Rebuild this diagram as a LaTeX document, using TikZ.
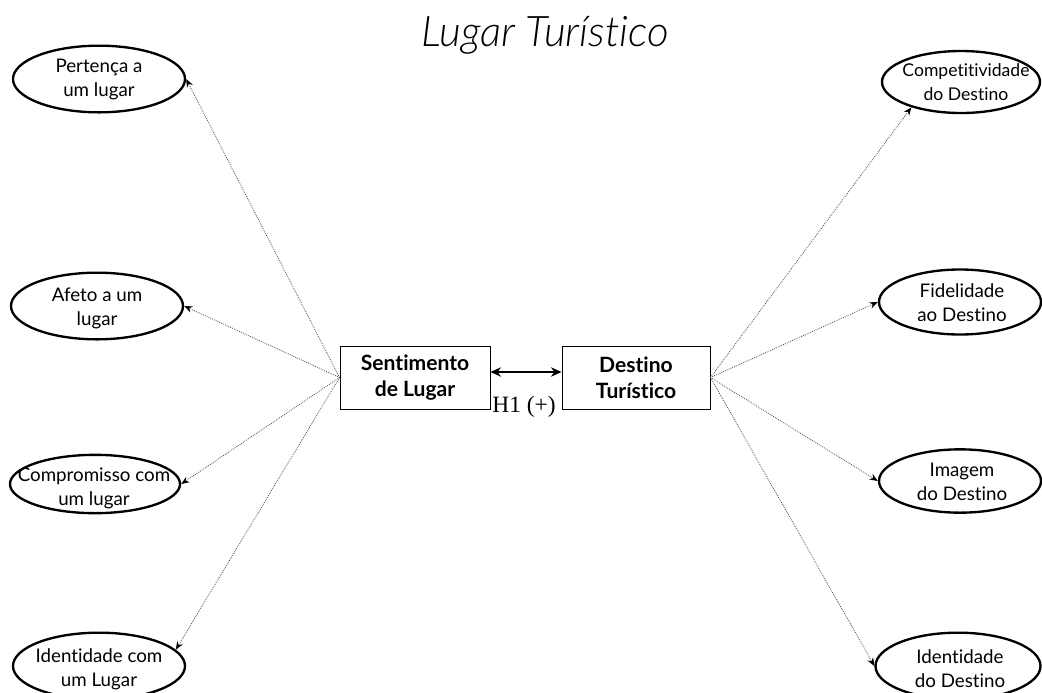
\documentclass[tikz,border=0pt]{standalone}
\usepackage{fontspec}
\setmainfont{Lato}[Ligatures={NoCommon,NoRequired,NoContextual}]
\newfontfamily\titlefont{Lato Light Italic}[Ligatures={NoCommon,NoRequired,NoContextual}]
\newfontfamily\seriffont{Liberation Serif}
\newcommand\tI{t\kern0pt i}
\usetikzlibrary{shapes.geometric,arrows.meta}
\tikzset{
  oval/.style={ellipse, draw, line width=2pt, inner sep=0pt, minimum width=5.16cm, minimum height=2.0cm},
  ovaltext/.style={inner sep=0pt, align=center, font=\fontsize{16}{20.5}\selectfont},
  bigbox/.style={rectangle, draw, line width=0.8pt, inner sep=0pt, minimum width=4.5cm, minimum height=1.89cm, align=center, font=\fontsize{18}{22.5}\selectfont\bfseries},
  dotarrow/.style={draw=black!70, line width=0.7pt, densely dotted, -{Stealth[length=7pt,width=5.5pt,black]}},
  dblarrow/.style={line width=1.6pt, {Stealth[length=9pt,width=8pt]}-{Stealth[length=9pt,width=8pt]}}
}
\begin{document}
\begin{tikzpicture}[x=0.03cm,y=-0.03cm]
\useasboundingbox (0,0) rectangle (1042,692);
\node[font=\titlefont\fontsize{36}{40}\selectfont] (title) at (545,35) {Lugar Turís\tI co};
% left ellipses
\node[oval] (e1) at (99,79) {};
\node[ovaltext] (t1) at (e1) {Pertença a\\um lugar};
\node[oval] (e2) at (97,306) {};
\node[ovaltext] (t2) at (97,308) {Afeto a um\\lugar};
\node[oval, minimum width=5.1cm, minimum height=1.75cm] (e3) at (95,484) {};
\node[ovaltext] (t3) at (94,488) {Compromisso com\\um lugar};
\node[oval] (e4) at (99,666) {};
\node[ovaltext] (t4) at (99,669) {Iden\tI dade com\\um Lugar};
% right ellipses
\node[oval, minimum width=4.74cm, minimum height=1.86cm] (e5) at (961,82) {};
\node[ovaltext, font=\fontsize{15}{20.5}\selectfont] (t5) at (966,82) {Compe\tI \tI vidade\\do Des\tI no};
\node[oval, minimum width=4.86cm, minimum height=1.95cm] (e6) at (960,302) {};
\node[ovaltext] (t6) at (962,303) {Fidelidade\\ao Des\tI no};
\node[oval, minimum width=4.86cm, minimum height=1.9cm] (e7) at (960,481) {};
\node[ovaltext] (t7) at (962,482) {Imagem\\do Des\tI no};
\node[oval, minimum width=4.95cm] (e8) at (958,666) {};
\node[ovaltext] (t8) at (960,669) {Iden\tI dade\\do Des\tI no};
% boxes
\node[bigbox] (s) at (415,377.5) {Sen\tI mento\\de Lugar};
\node[bigbox, minimum width=4.44cm] (d) at (636,377.5) {Des\tI no\\Turís\tI co};
\draw[dblarrow] (s.east |- 0,372) coordinate (a1) -- (d.west |- 0,372) coordinate (a2);
\node[font=\seriffont\fontsize{20}{22}\selectfont, inner sep=0pt] (h1) at (524,407) {H1 (+)};
% dotted arrows
\draw[dotarrow] (s.west) -- (e1.east);
\draw[dotarrow] (s.west) -- (e2.east);
\draw[dotarrow] (s.west) -- (e3.east);
\draw[dotarrow] (s.west) -- (e4.12);
\draw[dotarrow] (d.east) -- (e5.207);
\draw[dotarrow] (d.east) -- (e6.west);
\draw[dotarrow] (d.east) -- (e7.west);
\draw[dotarrow] (d.east) -- (e8.west);
\end{tikzpicture}
\end{document}
